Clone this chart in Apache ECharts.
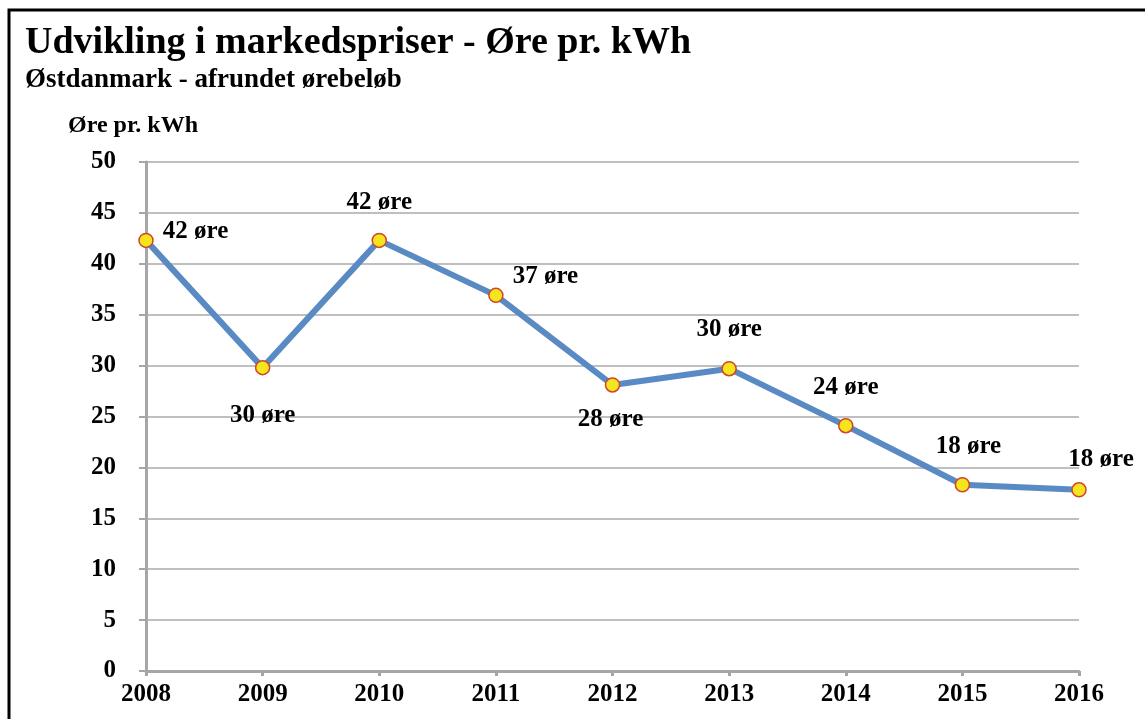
<!DOCTYPE html>
<html><head><meta charset="utf-8">
<script src="https://cdn.jsdelivr.net/npm/echarts@6/dist/echarts.min.js"></script>
<style>html,body{margin:0;padding:0;background:#fff}#c{width:1145px;height:719px}</style>
</head><body><div id="c"></div>
<script>
const years = ['2008','2009','2010','2011','2012','2013','2014','2015','2016'];
const prices = [42.3, 29.8, 42.3, 36.9, 28.1, 29.7, 24.1, 18.3, 17.8];
const yTicks = [0, 5, 10, 15, 20, 25, 30, 35, 40, 45, 50];

const labelStyles = [
  {position:'right', distance:9, offset:[0,-9]},
  {position:'bottom', distance:28},
  {position:'top', distance:18},
  {position:'right', distance:9, offset:[0,-19]},
  {position:'bottom', distance:14, offset:[-2,0]},
  {position:'top', distance:19},
  {position:'top', distance:18},
  {position:'top', distance:18, offset:[6,0]},
  {position:'top', distance:10, offset:[22,0]}
];
const serif = '"Liberation Serif","Times New Roman",serif';
const chart = echarts.init(document.getElementById('c'));
chart.setOption({
  animation:false,
  backgroundColor:'#fff',
  graphic:[
    {type:'rect', shape:{x:9,y:10,width:1200,height:800}, style:{fill:'none',stroke:'#000',lineWidth:3}},
    {type:'text', left:25, top:24, style:{text:'Udvikling i markedspriser - Øre pr. kWh', font:'bold 38px '+serif, fill:'#000'}},
    {type:'text', left:25, top:67, style:{text:'Østdanmark - afrundet ørebeløb', font:'bold 27px '+serif, fill:'#000'}},
    {type:'text', left:68, top:114, style:{text:'Øre pr. kWh', font:'bold 24px '+serif, fill:'#000'}}
  ],
  grid:{left:146, right:66, top:162, bottom:48},
  xAxis:{
    type:'category', data:years, boundaryGap:false,
    axisLine:{lineStyle:{color:'#a6a6a6', width:3}},
    axisTick:{show:true, length:5, lineStyle:{color:'#a6a6a6', width:3}},
    axisLabel:{color:'#000', fontFamily:serif, fontWeight:'bold', fontSize:25, margin:11},
    splitLine:{show:false}
  },
  yAxis:{
    type:'value', min:0, max:50, interval:5,
    axisLine:{show:true, lineStyle:{color:'#a6a6a6', width:3}},
    axisTick:{show:true, length:7, lineStyle:{color:'#a6a6a6', width:2}},
    axisLabel:{color:'#000', fontFamily:serif, fontWeight:'bold', fontSize:25, margin:30,
      formatter:v => yTicks.includes(v) ? String(v) : ''},
    splitLine:{show:true, lineStyle:{color:'#bfbfbf', width:2}}
  },
  series:[{
    type:'line',
    data:prices.map((v,i)=>({value:v, label:labelStyles[i]})),
    lineStyle:{color:'#5a8ac4', width:6},
    symbol:'circle', symbolSize:14,
    itemStyle:{color:'#f5e51e', borderColor:'#d0462a', borderWidth:1.5},
    label:{show:true, color:'#000', fontFamily:serif, fontWeight:'bold', fontSize:25,
      formatter:p => Math.round(p.value) + ' øre'},
    z:3
  }]
});
</script></body></html>
